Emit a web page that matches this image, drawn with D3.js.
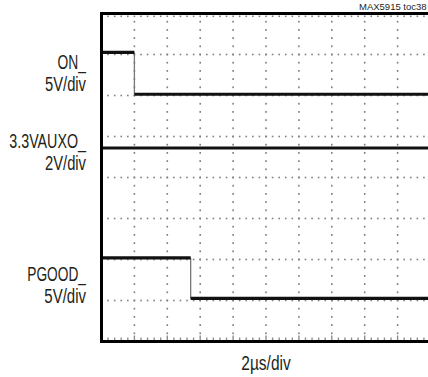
<!DOCTYPE html>
<html>
<head>
<meta charset="utf-8">
<script src="https://cdn.jsdelivr.net/npm/d3@7"></script>
<style>
  html, body { margin: 0; padding: 0; background: #fff; }
  svg { display: block; }
  text { font-family: "Liberation Sans", Arial, sans-serif; fill: #231f20; }
</style>
</head>
<body>
<svg id="chart" width="428" height="377"></svg>
<script>
// ---- data (time in µs, level in screen divisions from bottom) ----
const timeDomainUs = [0, 20];
const divDomain = [0, 8];
const timeDivs = d3.range(0, 11);      // major time divisions (2 µs/div)
const levelDivs = d3.range(0, 9);      // major vertical divisions

const onTimes  = [0, 2.0, 2.0, 20];
const onLevels = [7.05, 7.05, 6.03, 6.03];

const auxTimes  = [0, 20];
const auxLevels = [4.72, 4.72];

const pgTimes  = [0, 5.42, 5.42, 20];
const pgLevels = [2.04, 2.04, 1.05, 1.05];

const labelLines = [
  { text: "ON_",       base: 68.5,  width: 28.4 },
  { text: "5V/div",    base: 90.5,  width: 41 },
  { text: "3.3VAUXO_", base: 148,   width: 76.7 },
  { text: "2V/div",    base: 170,   width: 41 },
  { text: "PGOOD_",    base: 281,   width: 58.7 },
  { text: "5V/div",    base: 303,   width: 41.7 }
];
const xAxisLabel = "2µs/div";
const noteLabel = "MAX5915 toc38";

// ---- layout ----
const svg = d3.select("#chart");
const pLeft = 101.5, pRight = 430.5, pTop = 13.5, pBottom = 341.5;
const x = d3.scaleLinear().domain(timeDomainUs).range([pLeft, pRight]);
const y = d3.scaleLinear().domain(divDomain).range([pBottom, pTop]);

const grid = svg.append("g").attr("fill", "#808080");
const minorT = d3.range(0, 50.001, 1).map(k => k * 0.4);
const minorY = d3.range(0, 40.001, 1).map(k => k * 0.2);

// dotted horizontal grid lines
levelDivs.filter(d => d > 0 && d < 8).forEach(lv => {
  grid.selectAll(null).data(minorT).enter().append("rect")
    .attr("x", t => x(t) - 0.8).attr("y", y(lv) - 0.8)
    .attr("width", 1.6).attr("height", 1.6);
});
// dotted vertical grid lines
timeDivs.filter(d => d > 0 && d < 10).forEach(td => {
  grid.selectAll(null).data(minorY).enter().append("rect")
    .attr("x", x(td * 2) - 0.8).attr("y", v => y(v) - 0.9)
    .attr("width", 1.6).attr("height", 1.8);
});
// top minor ticks (dots just under the frame)
grid.selectAll(null).data(minorT).enter().append("rect")
  .attr("x", t => x(t) - 0.8).attr("y", y(8) + 2)
  .attr("width", 1.6).attr("height", 1.6);
// bottom minor ticks
svg.append("g").attr("stroke", "#8c8c8c").attr("stroke-width", 1.4)
  .selectAll("line").data(minorT).enter().append("line")
  .attr("x1", t => x(t)).attr("x2", t => x(t))
  .attr("y1", y(0)).attr("y2", (t, i) => y(0) - (i % 5 === 0 ? 6 : 4));

// ---- traces ----
function drawTrace(times, levels) {
  const pts = times.map((t, i) => [t, levels[i]]);
  for (let i = 1; i < pts.length; i++) {
    if (pts[i][0] === pts[i - 1][0]) {
      svg.append("line")
        .attr("x1", x(pts[i][0])).attr("x2", x(pts[i][0]))
        .attr("y1", y(pts[i - 1][1])).attr("y2", y(pts[i][1]))
        .attr("stroke", "#777").attr("stroke-width", 1.3);
    }
  }
  for (let i = 1; i < pts.length; i++) {
    if (pts[i][0] !== pts[i - 1][0]) {
      svg.append("path")
        .attr("d", d3.line().x(d => x(d[0])).y(d => y(d[1]))([pts[i - 1], pts[i]]))
        .attr("stroke", "#111").attr("stroke-width", 3.2).attr("fill", "none");
    }
  }
}
drawTrace(onTimes, onLevels);
drawTrace(auxTimes, auxLevels);
drawTrace(pgTimes, pgLevels);

// ---- frame ----
svg.append("path").attr("d", `M${pRight},${y(8)}H${pLeft}V${y(0)}H${pRight}`)
  .attr("stroke", "#000").attr("stroke-width", 3).attr("fill", "none")
  .attr("stroke-linecap", "square");

// ---- text ----
const labelRight = 86;
svg.selectAll("text.lbl").data(labelLines).enter().append("text")
  .attr("class", "lbl")
  .attr("x", d => labelRight - d.width).attr("y", d => d.base)
  .attr("font-size", 19.5)
  .attr("textLength", d => d.width).attr("lengthAdjust", "spacingAndGlyphs")
  .text(d => d.text);

svg.append("text")
  .attr("x", (pLeft + pRight) / 2 - 24.7).attr("y", 369.5)
  .attr("font-size", 19.5)
  .attr("textLength", 49.4).attr("lengthAdjust", "spacingAndGlyphs")
  .text(xAxisLabel);

svg.append("text")
  .attr("x", 359).attr("y", 9.5)
  .attr("font-size", 9.5)
  .text(noteLabel);
</script>
</body>
</html>
